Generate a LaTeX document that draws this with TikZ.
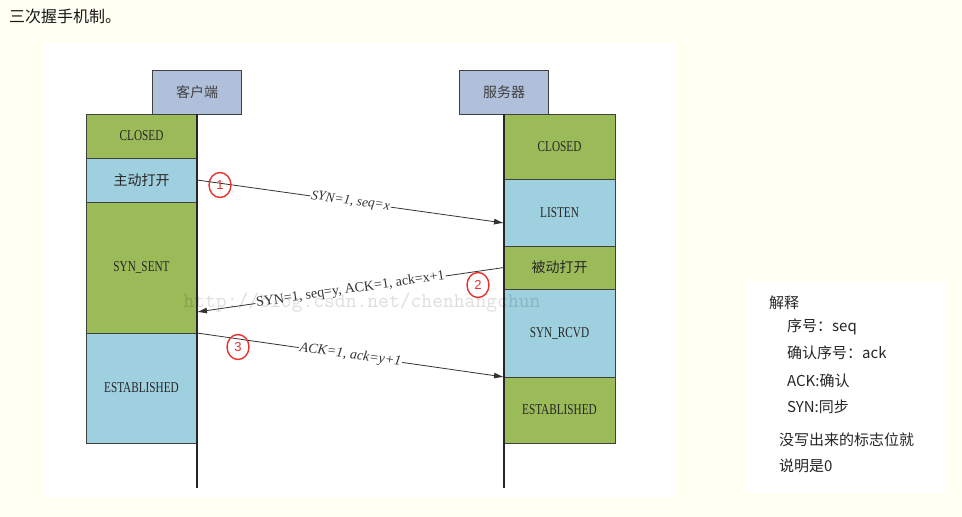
\documentclass[tikz,border=0pt]{standalone}
\usepackage{fontspec}
\setmainfont{Liberation Serif}
\setsansfont{Liberation Sans}
\newfontfamily\cjk{Noto Sans CJK SC}
\newfontfamily\boxfont[FakeStretch=0.75]{Liberation Serif}
\usetikzlibrary{arrows.meta,positioning,shapes.geometric}
\definecolor{bgcream}{HTML}{FFFFF2}
\definecolor{stategreen}{HTML}{9BBB59}
\definecolor{stateblue}{HTML}{9FD0DF}
\definecolor{headblue}{HTML}{B0C0DB}
\definecolor{markred}{HTML}{E8302C}
\tikzset{
    %Define standard arrow tip
    >={Latex[length=10pt,width=6pt]},
    %Define style for boxes
    head/.style={
           draw=black!75, line width=1pt,
           fill=headblue,
           minimum width=89pt,
           minimum height=44pt,
           font=\cjk\fontsize{14}{16}\selectfont,
           text=black!75,
           outer sep=0pt},
    box/.style={
           draw=black!75, line width=1pt,
           minimum width=111pt,
           inner sep=0pt, outer sep=0pt,
           font=\boxfont\fontsize{15}{17}\selectfont,
           text=black!85,
           text centered},
    greenbox/.style={box, fill=stategreen},
    bluebox/.style={box, fill=stateblue},
    % Define arrow style
    lifeline/.style={line width=1.6pt, black!85},
    msg/.style={->, line width=0.8pt, black!80},
    msglabel/.style={
           sloped, fill=white, inner sep=1pt,
           font=\fontsize{14}{16}\selectfont,
           text=black!80},
    numcircle/.style={
           ellipse, draw=markred, line width=1.4pt,
           minimum width=22pt, minimum height=25pt, inner sep=0pt,
           text=markred, font=\sffamily\fontsize{13}{15}\selectfont},
    note/.style={anchor=west, inner sep=0pt,
           font=\cjk\fontsize{15}{17}\selectfont, text=black!85}
}
\begin{document}
\begin{tikzpicture}[x=1pt,y=-1pt]
%background
\fill[bgcream] (0,0) rectangle (962,517);
\fill[white] (43,43) rectangle (675,497);
\fill[white] (745,281) rectangle (945,493);
\useasboundingbox (0,0) rectangle (962,517);
\node[note, font=\cjk\fontsize{16}{18}\selectfont, text=black!90] (title) at (9,16) {三次握手机制。};
%client
\node[head] (chead) at (197,92) {客户端};
\node[greenbox, minimum height=44pt, anchor=north east] (cclosed) at (197,114) {CLOSED};
\node[bluebox, minimum height=44pt, below=0pt of cclosed] (copen) {\cjk\fontsize{14}{16}\selectfont 主动打开};
\node[greenbox, minimum height=131pt, below=0pt of copen] (csent) {SYN\_SENT};
\node[bluebox, minimum height=110pt, below=0pt of csent] (cest) {ESTABLISHED};
%server
\node[head] (shead) at (504,92) {服务器};
\node[greenbox, minimum height=65pt, anchor=north west] (sclosed) at (504,114) {CLOSED};
\node[bluebox, minimum height=67pt, below=0pt of sclosed] (slisten) {LISTEN};
\node[greenbox, minimum height=43pt, below=0pt of slisten] (spassive) {\cjk\fontsize{14}{16}\selectfont 被动打开};
\node[bluebox, minimum height=88pt, below=0pt of spassive] (srcvd) {SYN\_RCVD};
\node[greenbox, minimum height=66pt, below=0pt of srcvd] (sest) {ESTABLISHED};
%lifelines
\coordinate (cbot) at (197,488);
\coordinate (sbot) at (504,488);
\draw[lifeline] (chead.south) -- (cbot);
\draw[lifeline] (shead.south) -- (sbot);
%messages
\draw[msg] (copen.east) -- node[msglabel, font=\itshape\fontsize{13.5}{15}\selectfont] {SYN=1, seq=x} ([yshift=-10.5pt]slisten.west);
\draw[msg] (spassive.west) -- node[msglabel] {SYN=1, seq=y, ACK=1, ack=x+1} ([yshift=21pt]csent.south east);
\draw[msg] (csent.south east) -- node[msglabel, font=\itshape\fontsize{14}{16}\selectfont] {ACK=1, ack=y+1} (srcvd.south west);
\node[numcircle] (n1) at (220,185) {1};
\node[numcircle] (n2) at (478,285) {2};
\node[numcircle] (n3) at (238,347) {3};
%watermark
\node[font=\ttfamily\fontsize{21}{23}\selectfont, text=black, opacity=0.13] (wmark) at (362,303) {http://blog.csdn.net/chenhangchun};
%notes
\node[note] (n0) at (769,303) {解释};
\node[note] (nseq) at (787,327) {序号：seq};
\node[note] (nack) at (787,353) {确认序号：ack};
\node[note] (nACK) at (787,381) {ACK:确认};
\node[note] (nSYN) at (787,407) {SYN:同步};
\node[note] (nflag) at (779,440) {没写出来的标志位就};
\node[note] (nzero) at (779,466) {说明是0};
\end{tikzpicture}
\end{document}
